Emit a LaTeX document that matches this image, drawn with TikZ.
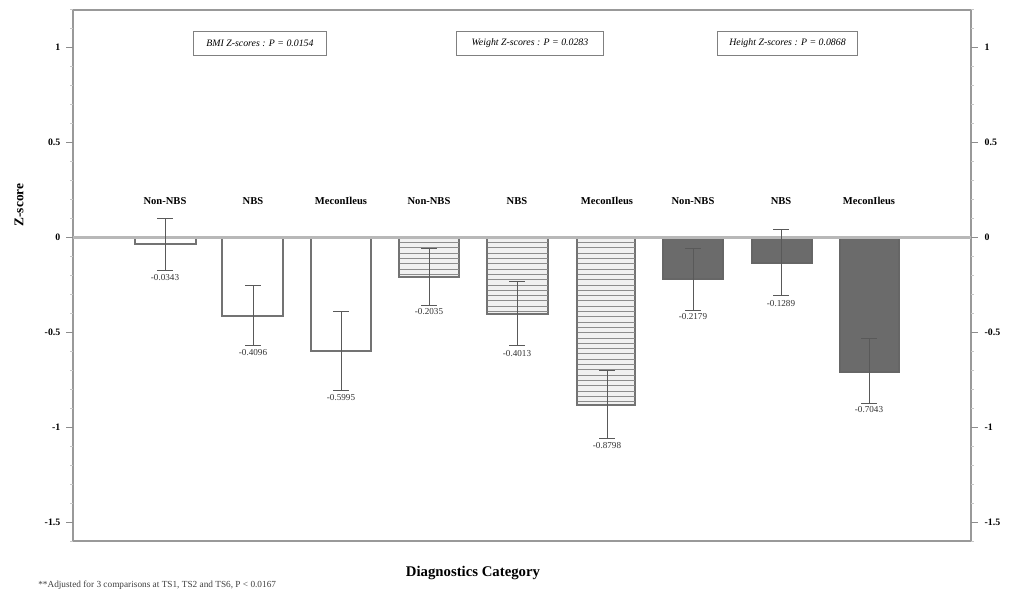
\documentclass[tikz,border=0pt]{standalone}
\usepackage{fontspec}
\setmainfont{Liberation Serif}
\begin{document}
\begin{tikzpicture}[x=0.025cm,y=-0.025cm,
  frame/.style={draw=black!40,line width=0.9pt},
  barw/.style={draw=black!55,line width=0.8pt,fill=white},
  barh/.style={draw=black!55,line width=0.8pt,fill=black!6},
  bard/.style={draw=black!60,line width=0.8pt,fill=black!58},
  hline/.style={draw=black!45,line width=0.55pt},
  errbar/.style={draw=black!65,line width=0.6pt},
  zeroline/.style={draw=black!28,line width=2pt},
  cat/.style={font=\fontsize{7.5}{9}\selectfont\bfseries,inner sep=1pt},
  val/.style={font=\fontsize{6.5}{8}\selectfont,inner sep=1pt,text=black!80},
  tlab/.style={font=\fontsize{7}{8}\selectfont\bfseries,inner sep=1pt},
  pbox/.style={draw=black!50,line width=0.7pt,font=\fontsize{7}{8}\selectfont\itshape,minimum height=0.6cm,inner sep=2pt}]
\useasboundingbox (0,0) rectangle (1012,592);
\fill[white] (0,0) rectangle (1012,592);
% frame
\draw[frame] (73,10) rectangle (971,541);
% ticks
\foreach \i in {-16,...,12}{
  \pgfmathsetmacro\yy{237.5-19*\i}
  \pgfmathtruncatemacro\mm{mod(abs(\i),5)}
  \ifnum\mm=0
    \draw[black!45,line width=0.7pt] (66,\yy) -- (73,\yy);
    \draw[black!45,line width=0.7pt] (971,\yy) -- (978,\yy);
  \else
    \draw[black!22,line width=0.5pt] (70,\yy) -- (73,\yy);
    \draw[black!22,line width=0.5pt] (971,\yy) -- (974,\yy);
  \fi
}
\foreach \v/\t/\n in {1/1/a,0.5/0.5/b,0/0/c,-0.5/-0.5/d,-1/-1/e,-1.5/-1.5/f}{
  \pgfmathsetmacro\yy{237.5-190*\v}
  \node[tlab,anchor=east] (L\n) at (62,\yy) {\t};
  \node[tlab,anchor=west] (R\n) at (983,\yy) {\t};
}
% plain bars
\draw[barw] (135,237.5) rectangle (196,244);
\draw[barw] (222,237.5) rectangle (283,316);
\draw[barw] (311,237.5) rectangle (371,351);
% hatched bars
\draw[barh] (399,237.5) rectangle (459,277);
\draw[barh] (487,237.5) rectangle (548,314);
\draw[barh] (577,237.5) rectangle (635,405);
\foreach \y in {242.5,247.8,...,275}{\draw[hline] (399.5,\y) -- (458.5,\y);}
\foreach \y in {242.5,247.8,...,312}{\draw[hline] (487.5,\y) -- (547.5,\y);}
\foreach \y in {242.5,247.8,...,403}{\draw[hline] (577.5,\y) -- (634.5,\y);}
% dark bars
\draw[bard] (663,237.5) rectangle (723,279);
\draw[bard] (752,237.5) rectangle (812,263);
\draw[bard] (840,237.5) rectangle (899,372);
% zero line
\draw[zeroline] (73,237.5) -- (971,237.5);
% error bars, category and value labels
\foreach \cx/\et/\eb/\ly/\c/\lab/\n in {
  165/218/270/278/Non-NBS/-0.0343/1,
  253/285/345/353/NBS/-0.4096/2,
  341/311/390/398/MeconIleus/-0.5995/3,
  429/248/305/312/Non-NBS/-0.2035/4,
  517/281/345/354/NBS/-0.4013/5,
  607/370/438/446/MeconIleus/-0.8798/6,
  693/248/310/317/Non-NBS/-0.2179/7,
  781/229/295/304/NBS/-0.1289/8,
  869/338/403/410/MeconIleus/-0.7043/9}{
  \draw[errbar] (\cx,\et) -- (\cx,\eb);
  \draw[errbar] (\cx-8,\et) -- (\cx+8,\et);
  \draw[errbar] (\cx-8,\eb) -- (\cx+8,\eb);
  \node[cat] (cat\n) at (\cx,201) {\c};
  \node[val] (val\n) at (\cx,\ly) {\lab};
}
% p-value boxes
\node[pbox,minimum width=3.3cm] (bmi) at (260,43) {BMI Z-scores : P = 0.0154};
\node[pbox,minimum width=3.65cm] (wt) at (530,43) {Weight Z-scores : P = 0.0283};
\node[pbox,minimum width=3.48cm] (ht) at (787.5,43) {Height Z-scores : P = 0.0868};
% axis titles
\node[font=\fontsize{9.5}{11}\selectfont\bfseries,rotate=90] (ylab) at (19,205) {Z-score};
\node[font=\fontsize{10.5}{12}\selectfont\bfseries] (xlab) at (473,573) {Diagnostics Category};
\node[font=\fontsize{6.6}{7}\selectfont,anchor=west,text=black!75,inner sep=0pt] (foot) at (38,585) {**Adjusted for 3 comparisons at TS1, TS2 and TS6, P < 0.0167};
\end{tikzpicture}
\end{document}
